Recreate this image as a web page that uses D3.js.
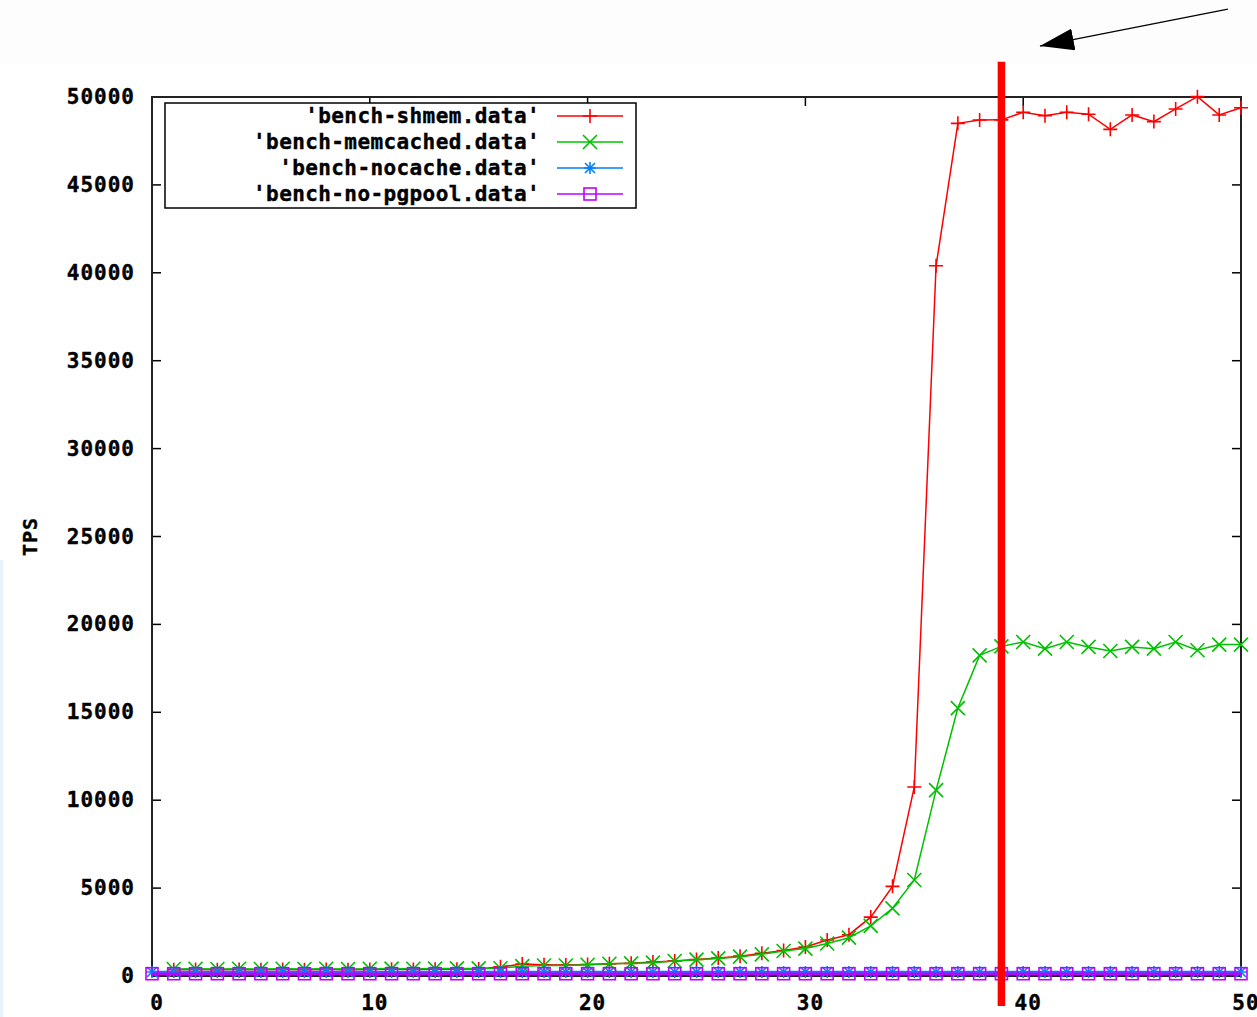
<!DOCTYPE html>
<html>
<head>
<meta charset="utf-8">
<script src="https://cdn.jsdelivr.net/npm/d3@7"></script>
<style>
  html, body { margin: 0; padding: 0; background: #ffffff; }
  #svg-container { width: 1257px; height: 1017px; }
  text { font-family: "DejaVu Sans Mono", "Liberation Mono", monospace; font-weight: bold; fill: #000; stroke: #000; stroke-width: 0.4; }
</style>
</head>
<body>
<div id="svg-container"></div>
<script>
////////////////////////////////////////////////////////////////////
////////////////////////////  Data  ////////////////////////////////

const seriesNames = [
  "'bench-shmem.data'",
  "'bench-memcached.data'",
  "'bench-nocache.data'",
  "'bench-no-pgpool.data'",
];

// x values (clients)
const xFull = [0,1,2,3,4,5,6,7,8,9,10,11,12,13,14,15,16,17,18,19,20,21,22,23,24,25,26,27,28,29,30,31,32,33,34,35,36,37,38,39,40,41,42,43,44,45,46,47,48,49,50];
const xFrom1 = xFull.slice(1);

const shmem = [360,370,360,370,360,370,360,370,360,370,380,370,380,390,400,
  520,680,640,620,650,690,720,800,860,940,1020,1130,1290,1450,1650,2050,2350,3350,5100,10750,40400,
  48500,48690,48700,49130,48940,49130,49020,48160,48980,48600,49320,50020,48980,49390];

const memcached = [400,410,400,410,400,410,400,410,400,410,420,410,420,430,430,
  440,560,600,600,640,700,720,760,850,930,1000,1100,1230,1420,1560,1850,2180,2850,3850,5460,10570,
  15240,18240,18750,19000,18620,19000,18720,18490,18720,18620,19000,18530,18850,18850];

const nocache = [230,230,230,230,230,230,230,230,230,230,230,230,230,230,230,230,230,230,230,230,230,230,230,230,230,230,
  230,230,230,230,230,230,230,230,230,230,230,230,230,230,230,230,230,230,230,230,230,230,230,230,230];

const noPgpool = [130,130,130,130,130,130,130,130,130,130,130,130,130,130,130,130,130,130,130,130,130,130,130,130,130,130,
  130,130,130,130,130,130,130,130,130,130,130,130,130,130,130,130,130,130,130,130,130,130,130,130,130];

const xTicks = [0, 10, 20, 30, 40, 50];
const yTicks = [0, 5000, 10000, 15000, 20000, 25000, 30000, 35000, 40000, 45000, 50000];

// annotation (data units): thick marker line and the arrow above the plot
const markerX = 39;
const markerY = [-1700, 52000];
const arrowFrom = [49.4, 55000];
const arrowTo = [40.77, 52900];

////////////////////////////////////////////////////////////////////
////////////////////////////  Init  ////////////////////////////////

const width = 1257;
const height = 1017;
const margin = { top: 97, right: 16, bottom: 41, left: 152 };

const svg = d3.select("#svg-container").append("svg")
  .attr("width", width).attr("height", height);

// very light strip at top and faint edge on the left (as in the screenshot)
svg.append("rect").attr("x", 0).attr("y", 0).attr("width", width).attr("height", 64).attr("fill", "#fdfdfd");
svg.append("rect").attr("x", 0).attr("y", 560).attr("width", 3).attr("height", height - 560).attr("fill", "#e8f3f9");

const x = d3.scaleLinear().domain([0, 50]).range([margin.left, width - margin.right]);
const y = d3.scaleLinear().domain([0, 50000]).range([height - margin.bottom, margin.top]);

const colors = ["#ff0000", "#00c000", "#0080ff", "#c000ff"];

// axes (gnuplot style: ticks inside, mirrored)
const tickLen = 9;
const axisG = svg.append("g");

axisG.selectAll(".ytick-l").data(yTicks).enter().append("line")
  .attr("x1", x(0)).attr("x2", x(0) + tickLen)
  .attr("y1", d => y(d)).attr("y2", d => y(d))
  .attr("stroke", "#000").attr("stroke-width", 1.5);
axisG.selectAll(".ytick-r").data(yTicks).enter().append("line")
  .attr("x1", x(50)).attr("x2", x(50) - tickLen)
  .attr("y1", d => y(d)).attr("y2", d => y(d))
  .attr("stroke", "#000").attr("stroke-width", 1.5);
axisG.selectAll(".xtick-b").data(xTicks).enter().append("line")
  .attr("x1", d => x(d)).attr("x2", d => x(d))
  .attr("y1", y(0)).attr("y2", y(0) - tickLen)
  .attr("stroke", "#000").attr("stroke-width", 1.5);
axisG.selectAll(".xtick-t").data(xTicks).enter().append("line")
  .attr("x1", d => x(d)).attr("x2", d => x(d))
  .attr("y1", y(50000)).attr("y2", y(50000) + tickLen)
  .attr("stroke", "#000").attr("stroke-width", 1.5);

// border
svg.append("rect")
  .attr("x", x(0)).attr("y", y(50000))
  .attr("width", x(50) - x(0)).attr("height", y(0) - y(50000))
  .attr("fill", "none").attr("stroke", "#222").attr("stroke-width", 2);

// tick labels
svg.selectAll(".ylab").data(yTicks).enter().append("text")
  .attr("x", x(0) - 17).attr("y", d => y(d) + 7)
  .attr("text-anchor", "end")
  .attr("font-size", 21).attr("letter-spacing", 1)
  .text(d => d);

svg.selectAll(".xlab").data(xTicks).enter().append("text")
  .attr("x", d => x(d) + 5).attr("y", y(0) + 34)
  .attr("text-anchor", "middle")
  .attr("font-size", 21).attr("letter-spacing", 1)
  .text(d => d);

svg.append("text")
  .attr("transform", `translate(37, ${(y(0) + y(50000)) / 2}) rotate(-90)`)
  .attr("text-anchor", "middle")
  .attr("font-size", 20).attr("letter-spacing", 1)
  .text("TPS");

////////////////////////////////////////////////////////////////////
////////////////////////////  Series  //////////////////////////////

const series = [
  { xs: xFrom1, ys: shmem },
  { xs: xFrom1, ys: memcached },
  { xs: xFull, ys: nocache },
  { xs: xFull, ys: noPgpool },
];

const line = d3.line().x(d => x(d[0])).y(d => y(d[1]));

// point symbols: +, x, *, open square
const drawMarker = (sel, type, color) => {
  const s = 7;
  if (type === 0 || type === 2) {
    const r = type === 0 ? s : 6;
    sel.append("path").attr("d", `M${-r},0H${r}M0,${-r}V${r}`)
      .attr("stroke", color).attr("stroke-width", 1.6).attr("fill", "none");
  }
  if (type === 1 || type === 2) {
    const r = type === 1 ? s : 5;
    sel.append("path").attr("d", `M${-r},${-r}L${r},${r}M${-r},${r}L${r},${-r}`)
      .attr("stroke", color).attr("stroke-width", 1.6).attr("fill", "none");
  }
  if (type === 3) {
    sel.append("rect").attr("x", -6).attr("y", -6).attr("width", 12).attr("height", 12)
      .attr("stroke", color).attr("stroke-width", 1.6).attr("fill", "none");
  }
};

const plotG = svg.append("g");
series.forEach((s, i) => {
  const pts = s.xs.map((xv, j) => [xv, s.ys[j]]);
  const g = plotG.append("g");
  g.append("path").datum(pts)
    .attr("d", line)
    .attr("fill", "none")
    .attr("stroke", colors[i])
    .attr("stroke-width", i < 2 ? 1.5 : 2.5);
  g.selectAll(".pt").data(pts).enter().append("g")
    .attr("transform", d => `translate(${x(d[0])},${y(d[1])})`)
    .each(function () { drawMarker(d3.select(this), i, colors[i]); });
});

////////////////////////////////////////////////////////////////////
////////////////////////////  Legend  //////////////////////////////

const legend = svg.append("g");
legend.append("rect")
  .attr("x", 165).attr("y", 103).attr("width", 471).attr("height", 105)
  .attr("fill", "#fff").attr("stroke", "#000").attr("stroke-width", 1.5);

seriesNames.forEach((name, i) => {
  const ly = 116 + i * 26;
  legend.append("text")
    .attr("x", 540).attr("y", ly + 7)
    .attr("text-anchor", "end")
    .attr("font-size", 21).attr("letter-spacing", 0.4)
    .text(name);
  legend.append("line")
    .attr("x1", 557).attr("x2", 623).attr("y1", ly).attr("y2", ly)
    .attr("stroke", colors[i]).attr("stroke-width", 1.6);
  const mg = legend.append("g").attr("transform", `translate(590,${ly})`);
  drawMarker(mg, i, colors[i]);
});

////////////////////////////////////////////////////////////////////
////////////////////////////  Annotation  //////////////////////////

svg.append("line")
  .attr("x1", x(markerX)).attr("x2", x(markerX))
  .attr("y1", y(markerY[0])).attr("y2", y(markerY[1]))
  .attr("stroke", "#ff0000").attr("stroke-width", 7.5);

svg.append("defs").append("marker")
  .attr("id", "arrowhead")
  .attr("viewBox", "0 0 34 22")
  .attr("refX", 34).attr("refY", 11)
  .attr("markerWidth", 34).attr("markerHeight", 22)
  .attr("markerUnits", "userSpaceOnUse")
  .attr("orient", "auto")
  .append("path").attr("d", "M0,0L34,11L0,22Z").attr("fill", "#000");

svg.append("line")
  .attr("x1", x(arrowFrom[0])).attr("y1", y(arrowFrom[1]))
  .attr("x2", x(arrowTo[0])).attr("y2", y(arrowTo[1]))
  .attr("stroke", "#000").attr("stroke-width", 1.3)
  .attr("marker-end", "url(#arrowhead)");
</script>
</body>
</html>
